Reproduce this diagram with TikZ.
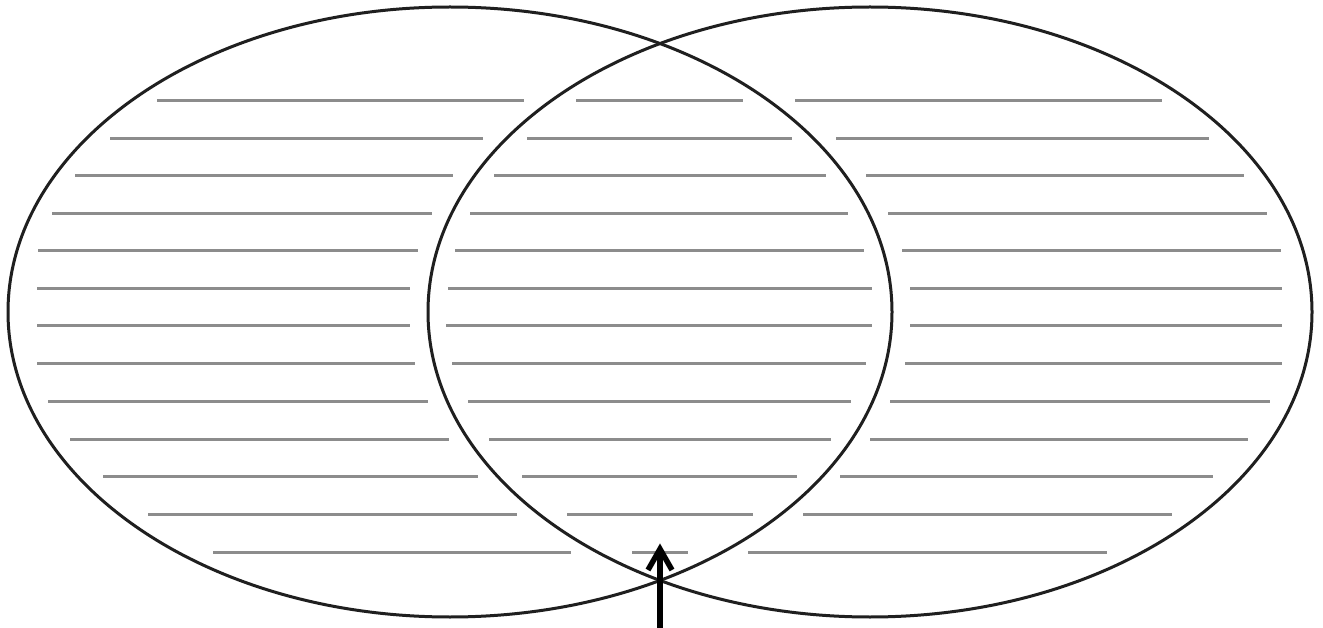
\documentclass[tikz,border=0pt]{standalone}
\begin{document}
\begin{tikzpicture}[x=1pt,y=-1pt,
  rule/.style={draw=black!45,line width=3pt},
  venn/.style={draw=black!88,line width=3pt},
  pointer/.style={draw=black,line width=5.5pt},
  barb/.style={draw=black,line width=5.5pt,miter limit=10}]
\useasboundingbox (0,0) rectangle (1323,628);
\fill[white] (0,0) rectangle (1323,628);
\foreach \y/\a/\b/\c/\d/\e/\f in {
 101/157/524/576/743/795/1162,
 139/110/483/527/792/836/1209,
 176/75/453/494/826/866/1244,
 214/52/432/470/848/888/1267,
 251/38/418/455/864/902/1281,
 289/37/410/448/872/910/1282,
 326/37/410/446/872/910/1282,
 364/37/415/452/866/905/1282,
 401/48/428/468/851/890/1270,
 439/70/449/489/831/870/1248,
 476/103/478/522/797/840/1213,
 514/148/517/567/753/803/1172,
 552/213/571/632/688/748/1107}{
  \draw[rule] (\a,\y) -- (\b,\y);
  \draw[rule] (\c,\y) -- (\d,\y);
  \draw[rule] (\e,\y) -- (\f,\y);
}
\draw[venn] (450,312) ellipse [x radius=442, y radius=305];
\draw[venn] (870,312) ellipse [x radius=442, y radius=305];
\coordinate (tail) at (660,630);
\coordinate (tip) at (660,549);
\draw[pointer] (tail) -- (tip);
\draw[barb] (tip) ++(-12,21) -- (tip) -- ++(12,21);
\end{tikzpicture}
\end{document}
